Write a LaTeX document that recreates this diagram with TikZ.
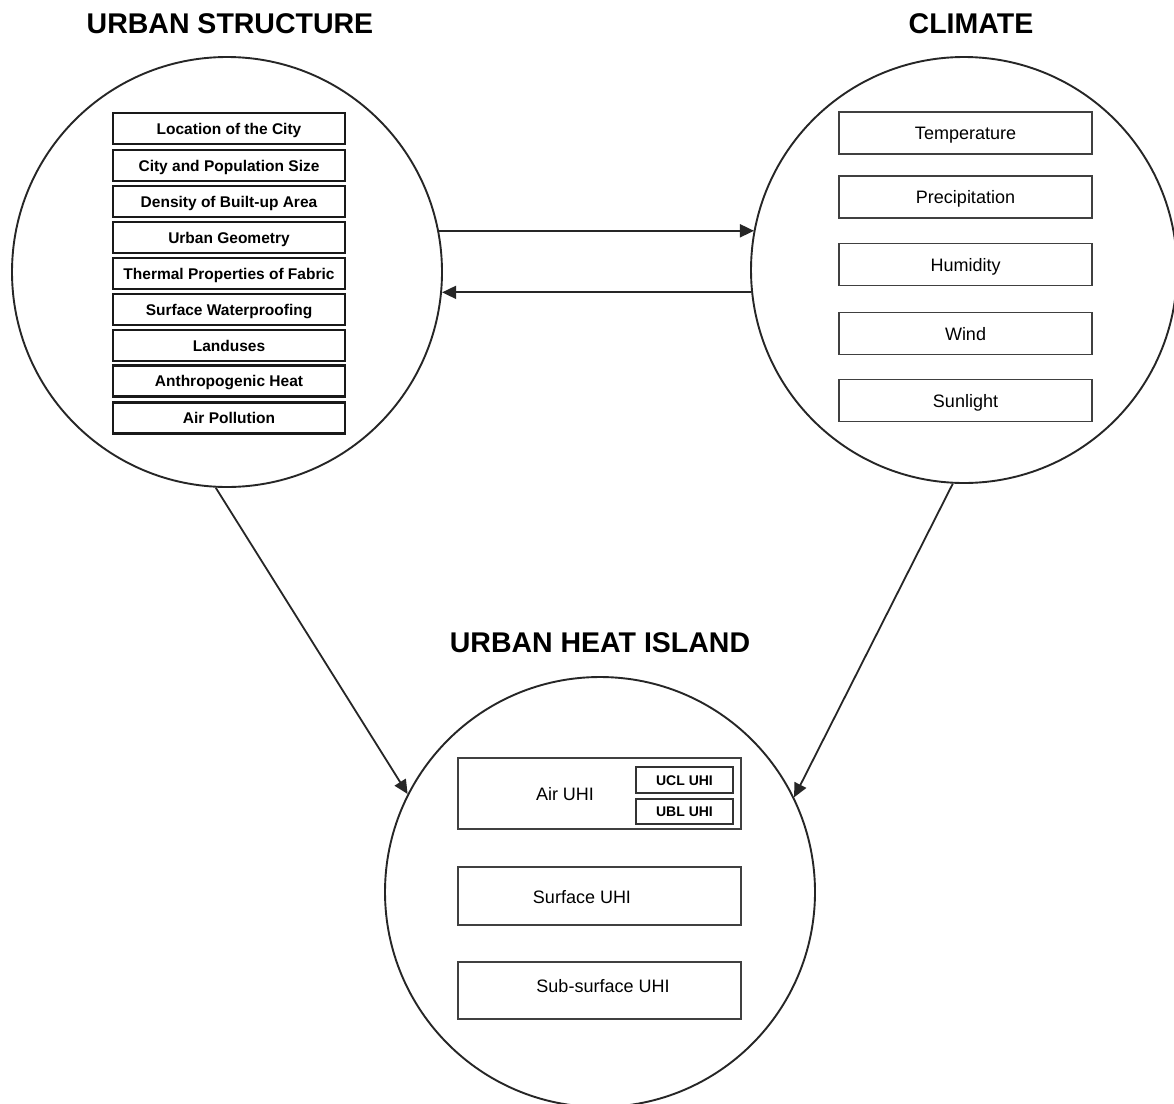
\documentclass[tikz,border=0pt]{standalone}
\usepackage{fontspec}
\setmainfont{Liberation Sans}
\usetikzlibrary{arrows.meta}
\tikzset{
  ring/.style={draw=black!85, line width=1.9pt, circle, minimum size=#1, inner sep=0pt},
  title/.style={font=\fontsize{28.5}{32}\selectfont\bfseries, inner sep=0pt},
  usbox/.style={draw=black!90, line width=2.4pt, minimum width=232pt, minimum height=31pt, inner sep=0pt, text height=11pt, text depth=0pt, font=\fontsize{15.5}{17}\selectfont\bfseries},
  clbox/.style={draw=black!75, line width=1.6pt, minimum width=253pt, minimum height=42pt, inner sep=0pt, text height=13pt, text depth=0pt, font=\fontsize{18}{20}\selectfont},
  uhbox/.style={draw=black!75, line width=1.6pt, minimum width=283pt, inner sep=0pt},
  smbox/.style={draw=black!80, line width=1.6pt, minimum width=97pt, inner sep=0pt, text height=10pt, text depth=0pt, font=\fontsize{14}{16}\selectfont\bfseries},
  uhtext/.style={inner sep=0pt, text height=13pt, text depth=0pt, font=\fontsize{18}{20}\selectfont},
  link/.style={draw=black!85, line width=1.8pt, -{Triangle[length=14pt,width=13pt]}}
}
\begin{document}
\begin{tikzpicture}[x=1pt,y=-1pt]
\useasboundingbox (0,0) rectangle (1174,1103);
\fill[white] (0,0) rectangle (1174,1103);

% titles
\node[title] (t1) at (230,24) {URBAN STRUCTURE};
\node[title] (t2) at (971,24) {CLIMATE};
\node[title] (t3) at (600,643) {URBAN HEAT ISLAND};

% circles
\node[ring=430pt] (us) at (227,272) {};
\node[ring=426pt] (cl) at (964,270) {};
\node[ring=430pt] (uh) at (600,892) {};

% urban structure boxes
\node[usbox] (u1) at (229,128.5) {Location of the City};
\node[usbox] (u2) at (229,165.5) {City and Population Size};
\node[usbox] (u3) at (229,201.5) {Density of Built-up Area};
\node[usbox] (u4) at (229,237.5) {Urban Geometry};
\node[usbox] (u5) at (229,273.5) {Thermal Properties of Fabric};
\node[usbox] (u6) at (229,309.5) {Surface Waterproofing};
\node[usbox] (u7) at (229,345.5) {Landuses};
\node[usbox] (u8) at (229,381) {Anthropogenic Heat};
\node[usbox] (u9) at (229,418) {Air Pollution};

% climate boxes
\node[clbox] (c1) at (965.5,133) {Temperature};
\node[clbox] (c2) at (965.5,197) {Precipitation};
\node[clbox] (c3) at (965.5,264.5) {Humidity};
\node[clbox] (c4) at (965.5,333.5) {Wind};
\node[clbox] (c5) at (965.5,400.5) {Sunlight};

% urban heat island boxes
\node[uhbox, minimum height=71pt] (h1) at (599.5,793.5) {};
\node[uhbox, minimum height=58pt] (h2) at (599.5,896) {};
\node[uhbox, minimum height=57pt] (h3) at (599.5,990.5) {};
\node[uhtext] (h1t) at (565,794) {Air UHI};
\node[uhtext] (h2t) at (582,897) {Surface UHI};
\node[uhtext] (h3t) at (603,986) {Sub-surface UHI};
\node[smbox, minimum height=26pt] (s1) at (684.5,780) {UCL UHI};
\node[smbox, minimum height=25pt] (s2) at (684.5,811.5) {UBL UHI};

% connectors
\draw[link] (us.11.27) -- (us.11.27 -| cl.169.18);
\draw[link] (cl.186.2) -- (cl.186.2 -| us.-5.6);
\draw[link] (us.-93.2) -- (uh.153.2);
\draw[link] (cl.-93.2) -- (uh.26.9);
\end{tikzpicture}
\end{document}
